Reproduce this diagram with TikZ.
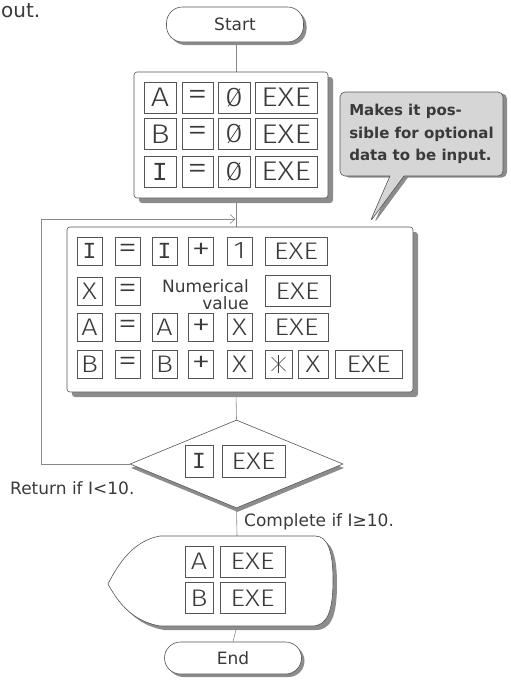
\documentclass[tikz,border=0pt]{standalone}
\usepackage{fontspec}
\setmainfont{DejaVu Sans}
\newfontfamily\keyf{Fira Sans}[UprightFont={* Light}, FakeStretch=1.2]
\newfontfamily\monof{Liberation Mono}
\usetikzlibrary{shapes.geometric,shapes.callouts,shadows,arrows.meta,backgrounds,calc}
\definecolor{txt}{HTML}{3A3A3A}
\definecolor{ln}{HTML}{555555}
\definecolor{shd}{HTML}{8C8C8C}
\definecolor{cfill}{HTML}{D6D6D6}
\definecolor{conn}{HTML}{888888}
\begin{document}
\begin{tikzpicture}[x=1pt,y=-1pt,
  every node/.style={text=txt},
  conn/.style={draw=conn, line width=0.6pt},
  frame/.style={draw=ln, line width=0.6pt, fill=white},
  sh/.style={drop shadow={shadow xshift=#1pt, shadow yshift=-#1pt, fill=shd, opacity=1}},
  term/.style={frame, sh=3, rounded corners=16pt, minimum height=#1pt, font=\fontsize{17}{17}\selectfont, inner sep=0pt},
  key/.style={draw=ln, line width=0.5pt, inner sep=0pt, fill=white,
    font=\keyf\fontsize{24}{24}\selectfont, minimum height=28pt, minimum width=25pt},
  bkey/.style={key, font=\keyf\fontsize{27}{27}\selectfont, minimum height=31pt, minimum width=32pt},
  w/.style={minimum width=#1pt},
  h/.style={minimum height=#1pt},
  ikey/.style={font=\monof\fontsize{#1}{#1}\selectfont},
  op/.style={font=\keyf\fontsize{#1}{#1}\selectfont},
  zero/.style={path picture={\draw[txt, line width=0.7pt]
     ([xshift=-6pt,yshift=-9pt]path picture bounding box.center) --
     ([xshift=6pt,yshift=9pt]path picture bounding box.center);}},
  star/.style={path picture={\draw[txt, line width=0.6pt]
     ([yshift=-9pt]path picture bounding box.center) -- ([yshift=9pt]path picture bounding box.center)
     ([xshift=-7pt,yshift=-7pt]path picture bounding box.center) -- ([xshift=7pt,yshift=7pt]path picture bounding box.center)
     ([xshift=-7pt,yshift=7pt]path picture bounding box.center) -- ([xshift=7pt,yshift=-7pt]path picture bounding box.center);}},
  lab/.style={font=\fontsize{17}{17}\selectfont, inner sep=0pt}
]
\useasboundingbox (0,0) rectangle (511,683);

% stray text from the page above
\node[anchor=base west, inner sep=0pt, font=\fontsize{20}{20}\selectfont] (outtxt) at (1,17) {out.};

% Start
\node[term=35, minimum width=137pt] (start) at (235,24.5) {Start};

% Box 1
\node[frame, sh=5, rounded corners=3pt, minimum width=194pt, minimum height=126pt] (box1) at (231,135) {};
\node[bkey] (b1a) at (160,97.5) {A};
\node[bkey,w=31,op=34] (b1b) at (197.5,97.5) {=};
\node[bkey,zero] (b1c) at (234,97.5) {0};
\node[bkey,w=62] (b1d) at (286,97.5) {EXE};
\node[bkey] (b2a) at (160,134) {B};
\node[bkey,w=31,op=34] (b2b) at (197.5,134) {=};
\node[bkey,zero] (b2c) at (234,134) {0};
\node[bkey,w=62] (b2d) at (286,134) {EXE};
\node[bkey,ikey=26] (b3a) at (160,171.5) {I};
\node[bkey,w=31,op=34] (b3b) at (197.5,171.5) {=};
\node[bkey,zero] (b3c) at (234,171.5) {0};
\node[bkey,w=62] (b3d) at (286,171.5) {EXE};

% Callout
\coordinate (tip) at (370,222);
\node[rectangle callout, draw=ln, line width=0.6pt, fill=cfill, rounded corners=5pt,
  drop shadow={shadow xshift=4pt, shadow yshift=-1.5pt, fill=shd, opacity=1},
  callout absolute pointer=(tip), callout pointer width=14pt,
  minimum width=163pt, minimum height=84pt, inner sep=2pt, align=left,
  font=\bfseries\fontsize{15}{22.5}\selectfont] (note) at (421.5,134)
  {Makes it pos-\\sible for optional\\data to be input.};

% Box 2
\node[frame, sh=5, rounded corners=3pt, minimum width=346pt, minimum height=165pt] (box2) at (240,309.5) {};
% row 1
\node[key,ikey=23] (r1a) at (89.5,251) {I};
\node[key,op=32] (r1b) at (127.5,251) {=};
\node[key,ikey=23] (r1c) at (164.5,251) {I};
\node[key,op=32] (r1d) at (201,251) {+};
\node[key] (r1e) at (239.5,251) {1};
\node[key,w=62] (r1f) at (296,251) {EXE};
% row 2
\node[key] (r2a) at (89.5,291) {X};
\node[key,op=32] (r2b) at (127.5,291) {=};
\node[lab, align=right, anchor=north east, font=\fontsize{17}{17}\selectfont] (numval) at (249,279) {Numerical\\value};
\node[key,w=65,h=31] (r2f) at (297.5,291) {EXE};
% row 3
\node[key] (r3a) at (89.5,327) {A};
\node[key,op=32] (r3b) at (127.5,327) {=};
\node[key] (r3c) at (164.5,327) {A};
\node[key,op=32] (r3d) at (201,327) {+};
\node[key] (r3e) at (239.5,327) {X};
\node[key,w=63] (r3f) at (296.5,327) {EXE};
% row 4
\node[key] (r4a) at (89.5,364) {B};
\node[key,op=32] (r4b) at (127.5,364) {=};
\node[key] (r4c) at (164.5,364) {B};
\node[key,op=32] (r4d) at (201,364) {+};
\node[key] (r4e) at (239.5,364) {X};
\node[key,w=27,star] (r4f) at (278.5,364) {};
\node[key,w=30] (r4g) at (313,364) {X};
\node[key,w=67] (r4h) at (368.5,364) {EXE};

% Decision
\node[diamond, frame, drop shadow={shadow xshift=1pt, shadow yshift=-4pt, fill=shd, opacity=1},
  minimum width=213pt, minimum height=88pt, inner sep=0pt] (diam) at (236.5,464) {};
\node[key,ikey=23,w=28,h=32] (dI) at (199,461) {I};
\node[key,w=63,h=32] (dE) at (253.5,461) {EXE};

% Display (output)
\coordinate (disptop) at (237,536);
\coordinate (dispbot) at (237,626);
\path[frame, sh=4] (108,584) .. controls (122,556) and (138,540) .. (160,536) -- (315,536)
  .. controls (328,536) and (333,552) .. (333,580)
  .. controls (333,612) and (327,626) .. (312,626) -- (160,626)
  .. controls (138,622) and (122,610) .. (108,584) -- cycle;
\node[key,w=28,h=31] (oA) at (199,561.5) {A};
\node[key,w=65,h=31] (oAE) at (252.5,561.5) {EXE};
\node[key,w=28,h=31] (oB) at (199,598) {B};
\node[key,w=65,h=31] (oBE) at (252.5,598) {EXE};

% End
\node[term=32, minimum width=137pt] (end) at (233,658) {End};

% Labels
\node[lab, anchor=base west] (ret) at (10,494) {Return if I<10.};
\node[lab, anchor=base west] (comp) at (244,526) {Complete if I≥10.};

% Connectors
\coordinate (cx) at (236,0);
\coordinate (loopc) at (41,219);
\coordinate (loopin) at (235.5,219);
\begin{pgfonlayer}{background}
\draw[conn] (start.south -| cx) -- (box1.north -| cx);
\draw[conn] (box1.south -| cx) -- (box2.north -| cx);
\draw[conn] (box2.south -| cx) -- (diam.north);
\draw[conn] (diam.south) -- (disptop);
\draw[conn] (dispbot) -- (end.north);
\draw[conn, -{Straight Barb[length=5pt,width=9pt]}] (diam.west) -| (loopc) -- (loopin);
\end{pgfonlayer}
\end{tikzpicture}
\end{document}
